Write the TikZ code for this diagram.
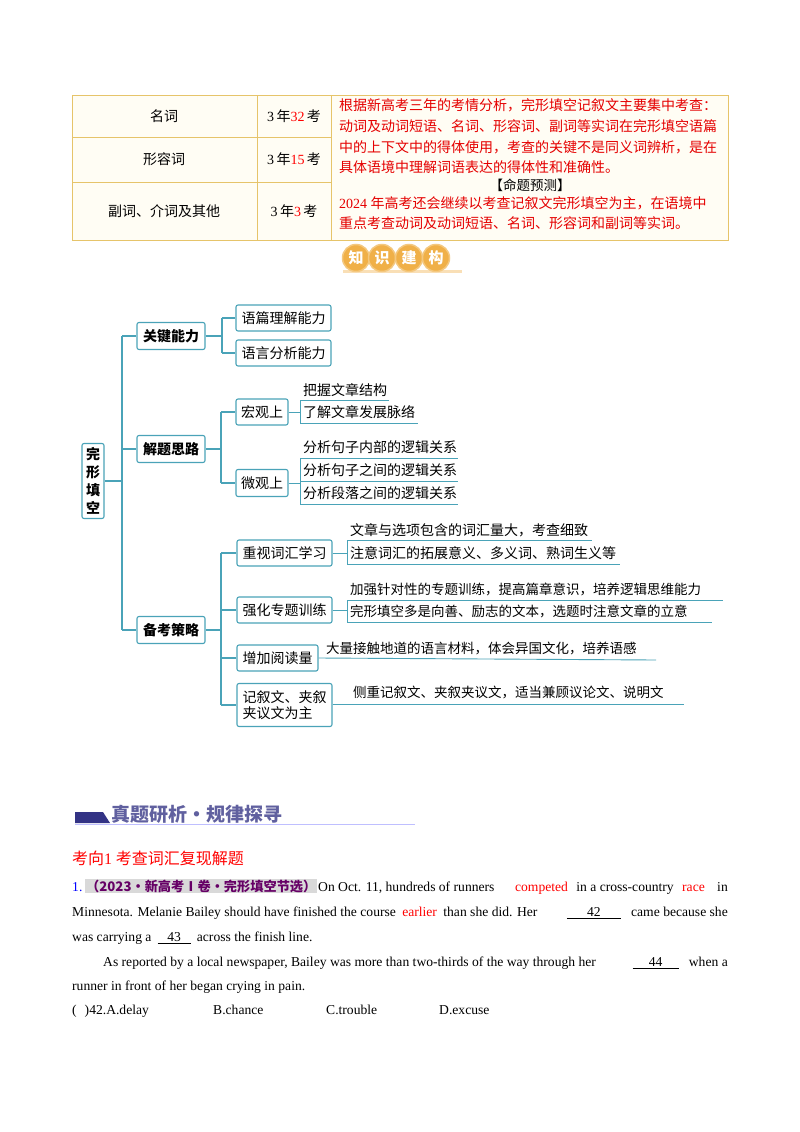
\documentclass[tikz,border=0pt]{standalone}
\usepackage{fontspec}
\usetikzlibrary{calc}
\setmainfont{Liberation Serif}
\newfontfamily\cjk{Noto Sans CJK SC}
\begin{document}
\begin{tikzpicture}[x=1pt,y=-1pt,
  tl/.style={font=\cjk\fontsize{14}{16}\selectfont,inner sep=0},
  red/.style={text=red!90!black},
  mm/.style={draw=teal1,line width=1.1pt,rounded corners=2pt,fill=white,inner sep=0,font=\cjk\fontsize{14}{16}\selectfont},
  mb/.style={mm,font=\cjk\bfseries\fontsize{14}{16}\selectfont},
  ml/.style={draw=teal1,line width=1.1pt},
  lf/.style={font=\cjk\fontsize{14}{16}\selectfont,inner sep=0,anchor=west},
  en/.style={font=\fontsize{13.6}{16}\selectfont,inner sep=0,anchor=base west},
  enr/.style={en,anchor=base east},
]
\definecolor{teal1}{HTML}{4AA3B8}
\definecolor{gold}{HTML}{E6C46A}
\definecolor{cream}{HTML}{FFFDF4}
\definecolor{badge}{HTML}{F0B048}
\useasboundingbox (0,0) rectangle (800,1132);
\fill[white] (0,0) rectangle (800,1132);
% table
\draw[gold,line width=1pt,fill=cream] (72,95) rectangle (728,240);
\draw[gold,line width=1pt] (257,95)--(257,240) (331,95)--(331,240) (72,137)--(331,137) (72,182)--(331,182);
\node[tl] (n1) at (164,116) {名词};
\node[tl] (n2) at (164,159) {形容词};
\node[tl] (n3) at (164,211) {副词、介词及其他};
\node[tl] (c1) at (294,116) {\rmfamily 3\,\cjk 年\rmfamily\color{red} 32\,\color{black}\cjk 考};
\node[tl] (c2) at (294,159) {\rmfamily 3\,\cjk 年\rmfamily\color{red} 15\,\color{black}\cjk 考};
\node[tl] (c3) at (294,211) {\rmfamily 3\,\cjk 年\rmfamily\color{red} 3\,\color{black}\cjk 考};
\begin{scope}[every node/.style={tl,red,anchor=west,font=\cjk\fontsize{14}{16}\selectfont}]
\node (r1) at (339,105) {根据新高考三年的考情分析，完形填空记叙文主要集中考查：};
\node (r2) at (339,126) {动词及动词短语、名词、形容词、副词等实词在完形填空语篇};
\node (r3) at (339,147) {中的上下文中的得体使用，考查的关键不是同义词辨析，是在};
\node (r4) at (339,167) {具体语境中理解词语表达的得体性和准确性。};
\node (r6) at (339,203) {{\rmfamily 2024 }年高考还会继续以考查记叙文完形填空为主，在语境中};
\node (r7) at (339,223) {重点考查动词及动词短语、名词、形容词和副词等实词。};
\end{scope}
\node[tl,font=\cjk\fontsize{13.5}{16}\selectfont] (r5) at (530,185) {【命题预测】};
% badge
\fill[badge!40] (343,270) rectangle (462,273);
\foreach \x/\t/\n in {356/知/b1,382/识/b2,409/建/b3,436/构/b4}{
  \node[circle,fill=badge,draw=badge!70!white,line width=1.5pt,minimum size=27pt,inner sep=0,text=white,font=\cjk\bfseries\fontsize{15}{15}\selectfont] (\n) at (\x,258) {\t};}
% mind map
\node[mm,font=\cjk\bfseries\fontsize{14}{18}\selectfont,minimum width=22pt,minimum height=75pt,align=center] (root) at (93,481) {完\\形\\填\\空};
\node[mb,minimum width=68pt,minimum height=27pt] (k1) at (171,336) {关键能力};
\node[mb,minimum width=68pt,minimum height=27pt] (k2) at (171,449) {解题思路};
\node[mb,minimum width=68pt,minimum height=27pt] (k3) at (171,630) {备考策略};
\coordinate (t1) at (122,336); \coordinate (t3) at (122,630);
\draw[ml] (root.east)--(122,481) (t1)--(t3) (t1)--(k1.west) (122,449)--(k2.west) (t3)--(k3.west);
% 关键能力
\node[mm,minimum width=95pt,minimum height=26pt] (a1) at (283.5,318) {语篇理解能力};
\node[mm,minimum width=95pt,minimum height=26pt] (a2) at (283.5,353) {语言分析能力};
\draw[ml] (k1.east)--(222,336) (222,318)--(222,353) (222,318)--(a1.west) (222,353)--(a2.west);
% 解题思路
\node[mm,minimum width=52pt,minimum height=26pt] (h1) at (262,412) {宏观上};
\node[mm,minimum width=52pt,minimum height=27pt] (h2) at (262,483) {微观上};
\draw[ml] (k2.east)--(221,449) (221,412)--(221,483) (221,412)--(h1.west) (221,483)--(h2.west);
\node[lf] (p1) at (303,390) {把握文章结构};
\node[lf] (p2) at (303,412) {了解文章发展脉络};
\draw[ml,line width=.9pt] (h1.east)--(300,412) (300,400)--(300,423) (300,400)--(389,400) (300,423)--(418,423);
\node[lf] (q1) at (303,447) {分析句子内部的逻辑关系};
\node[lf] (q2) at (303,470) {分析句子之间的逻辑关系};
\node[lf] (q3) at (303,493) {分析段落之间的逻辑关系};
\draw[ml,line width=.9pt] (h2.east)--(300,483) (300,458)--(300,504) (300,458)--(458,458) (300,481)--(458,481) (300,504)--(458,504);
% 备考策略
\node[mm,minimum width=95pt,minimum height=26pt] (s1) at (284.5,553) {重视词汇学习};
\node[mm,minimum width=95pt,minimum height=26pt] (s2) at (284.5,610) {强化专题训练};
\node[mm,minimum width=81pt,minimum height=26pt] (s3) at (277.5,658) {增加阅读量};
\node[mm,minimum width=95pt,minimum height=43pt,align=left] (s4) at (284.5,705) {记叙文、夹叙\\夹议文为主};
\draw[ml] (k3.east)--(221,630) (221,553)--(221,705) (221,553)--(s1.west) (221,610)--(s2.west) (221,658)--(s3.west) (221,705)--(s4.west);
\node[lf] (u1) at (350,530) {文章与选项包含的词汇量大，考查细致};
\node[lf] (u2) at (350,553) {注意词汇的拓展意义、多义词、熟词生义等};
\draw[ml,line width=.9pt] (s1.east)--(347,553) (347,540)--(347,564) (347,540)--(592,540) (347,564)--(620,564);
\node[lf,font=\cjk\fontsize{13.5}{16}\selectfont] (v1) at (350,589) {加强针对性的专题训练，提高篇章意识，培养逻辑思维能力};
\node[lf,font=\cjk\fontsize{13.5}{16}\selectfont] (v2) at (350,611) {完形填空多是向善、励志的文本，选题时注意文章的立意};
\draw[ml,line width=.9pt] (s2.east)--(347,610) (347,600)--(347,622) (347,600)--(723,600) (347,622)--(712,622);
\node[lf,font=\cjk\fontsize{13.5}{16}\selectfont] (w1) at (326,648) {大量接触地道的语言材料，体会异国文化，培养语感};
\draw[ml,line width=.9pt] (s3.east)--(656,660);
\coordinate (xx) at (684,704);
\node[lf,font=\cjk\fontsize{13.5}{16}\selectfont] (x1) at (353,692) {侧重记叙文、夹叙夹议文，适当兼顾议论文、说明文};
\draw[ml,line width=.9pt] (s4.east|-xx)--(xx);
% section header
\fill[blue!40!black!80] (75,812)--(103,812)--(110,823)--(75,823)--cycle;
\draw[blue!25,line width=.8pt] (75,824)--(415,824);
\node[font=\cjk\bfseries\fontsize{19}{19}\selectfont,text=blue!25!gray,inner sep=0,anchor=west] (hd) at (111,814) {真题研析·规律探寻};
\node[font=\cjk\fontsize{16}{16}\selectfont,text=red,inner sep=0,anchor=west] (kx) at (72,858) {考向{\rmfamily 1} 考查词汇复现解题};
% paragraph line 1
\node[en,text=blue] (e0) at (72,891) {1.};
\node[fill=black!15,inner sep=1pt,anchor=base west,font=\cjk\bfseries\fontsize{13.2}{15}\selectfont,text=violet!80!black] (e1) at (85,891) {（2023·新高考Ⅰ卷·完形填空节选）};
\node[en] (e2) at (318,891) {On Oct. 11, hundreds of runners};
\node[enr] (e6) at (728,891) {in};
\node[enr,text=red] (e5) at ([xshift=-12pt]e6.base west) {race};
\node[enr] (e4) at ([xshift=-8pt]e5.base west) {in a cross-country};
\node[enr,text=red] (e3) at ([xshift=-8pt]e4.base west) {competed};
% line 2
\node[en] (f1) at (72,916) {Minnesota. Melanie Bailey should have finished the course};
\node[en,text=red] (f2) at ([xshift=6pt]f1.base east) {earlier};
\node[enr] (f5) at (728,916) {came because she};
\coordinate (f4r) at ([xshift=-10pt]f5.base west);
\coordinate (f4l) at ([xshift=-54pt]f4r);
\node[en,anchor=base] (f4) at ($(f4l)!0.5!(f4r)$) {42};
\draw ([yshift=-2pt]f4l)--([yshift=-2pt]f4r);
\node[en] (f3) at ([xshift=6pt]f2.base east) {than she did. Her};
% line 3
\node[en] (g1) at (72,941) {was carrying a};
\coordinate (g2l) at ([xshift=6pt]g1.base east);
\coordinate (g2r) at ([xshift=33pt]g2l);
\node[en,anchor=base] (g2) at ($(g2l)!0.5!(g2r)$) {43};
\draw ([yshift=-2pt]g2l)--([yshift=-2pt]g2r);
\node[en] (g3) at ([xshift=6pt]g2r) {across the finish line.};
% line 4
\node[en] (h1x) at (103,966) {As reported by a local newspaper, Bailey was more than two-thirds of the way through her};
\node[enr] (h3x) at (728,966) {when a};
\coordinate (h2r) at ([xshift=-10pt]h3x.base west);
\coordinate (h2l) at ([xshift=-46pt]h2r);
\node[en,anchor=base] (h2x) at ($(h2l)!0.5!(h2r)$) {44};
\draw ([yshift=-2pt]h2l)--([yshift=-2pt]h2r);
\node[en] (i1) at (72,990) {runner in front of her began crying in pain.};
\node[en] (j1) at (72,1014) {(\hspace{8pt})42.A.delay};
\node[en] (j2) at (213,1014) {B.chance};
\node[en] (j3) at (326,1014) {C.trouble};
\node[en] (j4) at (439,1014) {D.excuse};
\end{tikzpicture}
\end{document}
